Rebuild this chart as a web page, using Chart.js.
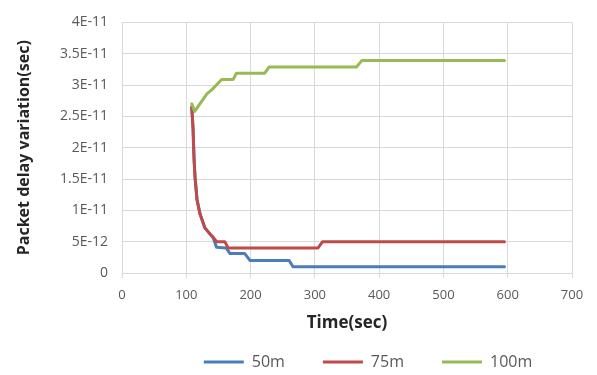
<!DOCTYPE html>
<html>
<head>
<meta charset="utf-8">
<script src="https://cdn.jsdelivr.net/npm/chart.js@4"></script>
<style>
  html, body { margin: 0; padding: 0; background: #fff; }
  #wrap { width: 597px; height: 375px; }
</style>
</head>
<body>
<div id="wrap"><canvas id="myChart" width="597" height="375"></canvas></div>
<script>
// data ---------------------------------------------------
const seriesNames = ["50m", "75m", "100m"];

const time50 = [108.5, 110.5, 112, 113.6, 116.7, 121.4, 129, 137, 142, 147, 162, 168, 191, 199, 260, 266, 595];
const delay50 = [2.65e-11, 2.31e-11, 1.84e-11, 1.53e-11, 1.17e-11, 9.4e-12, 7.2e-12, 6.2e-12, 5.6e-12, 4.1e-12, 4.0e-12, 3.1e-12, 3.1e-12, 2.0e-12, 2.0e-12, 1.0e-12, 1.0e-12];

const time75 = [108.5, 110.5, 112, 113.6, 116.7, 121.4, 129, 137, 142, 147, 160, 165, 305, 312, 595];
const delay75 = [2.65e-11, 2.31e-11, 1.84e-11, 1.53e-11, 1.17e-11, 9.4e-12, 7.2e-12, 6.2e-12, 5.7e-12, 5.0e-12, 5.0e-12, 4.0e-12, 4.0e-12, 5.0e-12, 5.0e-12];

const time100 = [108.5, 113, 132, 139, 145, 155, 173, 178, 222, 229, 365, 373, 595];
const delay100 = [2.7e-11, 2.58e-11, 2.86e-11, 2.92e-11, 2.98e-11, 3.09e-11, 3.09e-11, 3.19e-11, 3.19e-11, 3.29e-11, 3.29e-11, 3.39e-11, 3.39e-11];

const yTickLabels = ["0", "5E-12", "1E-11", "1.5E-11", "2E-11", "2.5E-11", "3E-11", "3.5E-11", "4E-11"];
const xTickLabels = ["0", "100", "200", "300", "400", "500", "600", "700"];

const colors = ["#4A7EBB", "#BE4B48", "#98B954"];
const drawOrder = [2, 1, 0]; // red sits over blue where they overlap

// build points ------------------------------
function toPoints(times, values) {
  return times.map((t, i) => ({ x: t, y: values[i] }));
}

const allTimes = [time50, time75, time100];
const allDelays = [delay50, delay75, delay100];

// nudge the legend to where it sits in the picture
const legendPlace = {
  id: "legendPlace",
  afterLayout(chart) {
    const lg = chart.legend;
    lg.left += 21;
    lg.right += 21;
    lg.top = 316;
    lg.bottom = 375;
    lg.height = lg.bottom - lg.top;
  },
};

const ctx = document.getElementById("myChart");
const chart = new Chart(ctx, {
  type: "line",
  data: {
    datasets: seriesNames.map((name, i) => ({
      label: name,
      data: toPoints(allTimes[i], allDelays[i]),
      borderColor: colors[i],
      backgroundColor: colors[i],
      borderWidth: 3,
      borderJoinStyle: "round",
      borderCapStyle: "round",
      pointRadius: 0,
      tension: 0,
      order: drawOrder[i],
    })),
  },
  options: {
    responsive: false,
    animation: false,
    layout: { padding: { top: 10, right: 25, left: 0, bottom: 0 } },
    scales: {
      x: {
        type: "linear",
        min: 0,
        max: 700,
        ticks: {
          stepSize: 100,
          color: "#595959",
          font: { family: "Open Sans", size: 13 },
          padding: 9,
          callback: (v, i) => xTickLabels[i],
        },
        grid: { color: "#D9D9D9", tickLength: 5, tickColor: "#D9D9D9" },
        border: { color: "#D9D9D9" },
        title: {
          display: true,
          text: "Time(sec)",
          color: "#262626",
          font: { family: "Open Sans", size: 17, weight: "bold" },
          padding: { top: 0, bottom: 12 },
        },
        afterFit: (scale) => { scale.height = 72; },
      },
      y: {
        min: 0,
        max: 4e-11,
        ticks: {
          stepSize: 5e-12,
          color: "#595959",
          font: { family: "Open Sans", size: 14 },
          padding: 14,
          callback: (v, i) => yTickLabels[i],
        },
        grid: { color: "#D9D9D9", drawTicks: false },
        border: { display: false },
        title: {
          display: true,
          text: "Packet delay variation(sec)",
          color: "#262626",
          font: { family: "Open Sans", size: 16, weight: "bold" },
          padding: { top: 15, bottom: 0 },
        },
        afterFit: (scale) => { scale.width = 122; },
      },
    },
    plugins: {
      legend: {
        position: "bottom",
        fullSize: false,
        maxHeight: 30,
        labels: {
          usePointStyle: true,
          pointStyle: "line",
          pointStyleWidth: 40,
          color: "#595959",
          font: { family: "Open Sans", size: 16 },
          padding: 38,
          sort: (a, b) => a.datasetIndex - b.datasetIndex,
        },
      },
      tooltip: { enabled: false },
    },
  },
  plugins: [legendPlace],
});
</script>
</body>
</html>
